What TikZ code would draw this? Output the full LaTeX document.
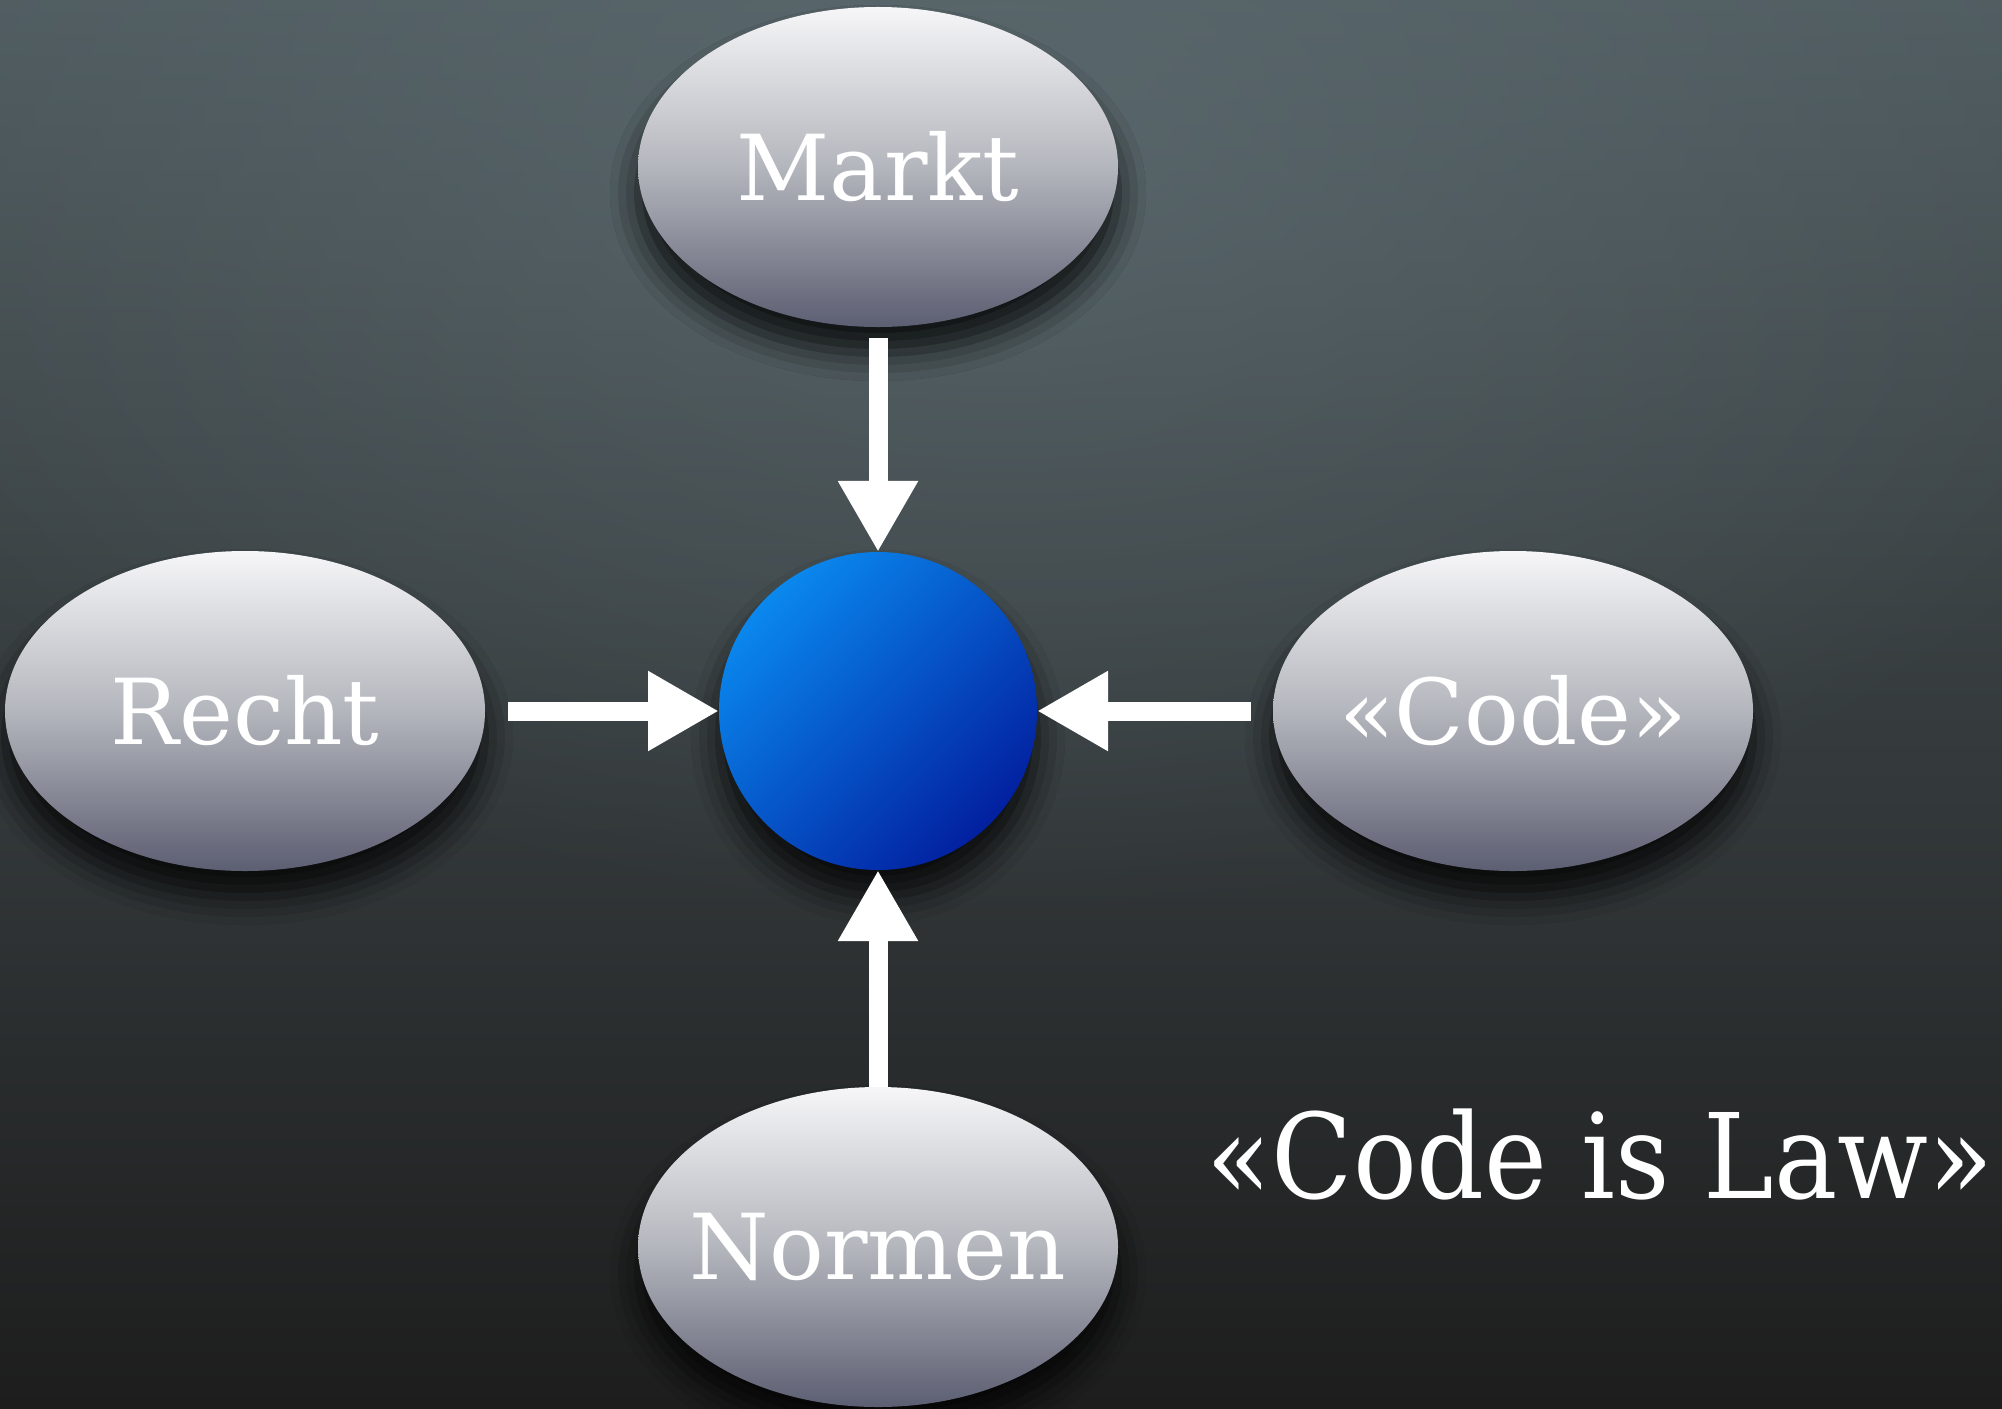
\documentclass[tikz,border=0pt]{standalone}
\usepackage{fontspec}
\setmainfont{DejaVu Serif}
\newfontfamily\condfont{DejaVu Serif Condensed}
\usetikzlibrary{shapes.geometric,arrows.meta,shadows.blur,fadings}
\tikzfading[name=glowfade, inner color=transparent!0, outer color=transparent!100]
\newcommand\fixlbl[1]{\makebox[0pt]{#1}}
\definecolor{bgtop}{HTML}{4F5B5F}
\definecolor{bgmid}{HTML}{3A4143}
\definecolor{bgbot}{HTML}{1D1D1D}
\definecolor{glow}{HTML}{5E6C71}
\definecolor{elltop}{HTML}{F6F6F8}
\definecolor{ellmid}{HTML}{B4B6BD}
\definecolor{ellbot}{HTML}{5C5E72}
\definecolor{bluelight}{HTML}{0A88EE}
\definecolor{bluedark}{HTML}{0220A0}
\tikzset{
  factor/.style={ellipse, minimum width=240bp, minimum height=160bp,
    inner sep=0pt, outer sep=0pt,
    top color=elltop, bottom color=ellbot, middle color=ellmid,
    text=white, font=\fontsize{45.5bp}{50bp}\selectfont,
    blur shadow={shadow xshift=0bp, shadow yshift=-13bp,
      shadow blur radius=14bp, shadow opacity=80}},
  hub/.style={circle, minimum size=159bp, inner sep=0pt, outer sep=0pt,
    top color=bluelight, bottom color=bluedark, shading angle=45,
    blur shadow={shadow xshift=0bp, shadow yshift=-13bp,
      shadow blur radius=14bp, shadow opacity=80}},
  blockarrow/.style={draw=white, line width=9.5bp,
    -{Triangle[width=37.5bp,length=35.5bp]}},
  motto/.style={text=white, inner sep=0pt, font=\condfont\fontsize{59bp}{66bp}\selectfont}
}
\begin{document}
\begin{tikzpicture}[x=0.5bp,y=-0.5bp]
  \useasboundingbox (0,0) rectangle (2002,1408);
  \begin{scope}
    \clip (0,0) rectangle (2002,1408);
    \shade[top color=bgtop, middle color=bgmid, bottom color=bgbot] (0,0) rectangle (2002,1408);
    \fill[glow, path fading=glowfade, opacity=0.7] (1000,120) ellipse [x radius=1300, y radius=800];
  \end{scope}

  \node[factor] (markt) at (878,167) {\fixlbl{Markt}};
  \node[factor] (recht) at (245,711) {\fixlbl{Recht}};
  \node[factor] (code) at (1513,711) {\fixlbl{«Code»}};
  \node[factor] (normen) at (878,1247) {\fixlbl{Normen}};
  \node[hub] (hub) at (878,711) {};
  \node[motto, anchor=base] (law) at (1600,1198) {«Code is Law»};

  \draw[blockarrow, shorten <=5.5bp] (markt) -- (hub);
  \draw[blockarrow, shorten <=11.5bp] (recht) -- (hub);
  \draw[blockarrow, shorten <=11bp] (code) -- (hub);
  \draw[blockarrow] (normen) -- (hub);
\end{tikzpicture}
\end{document}
